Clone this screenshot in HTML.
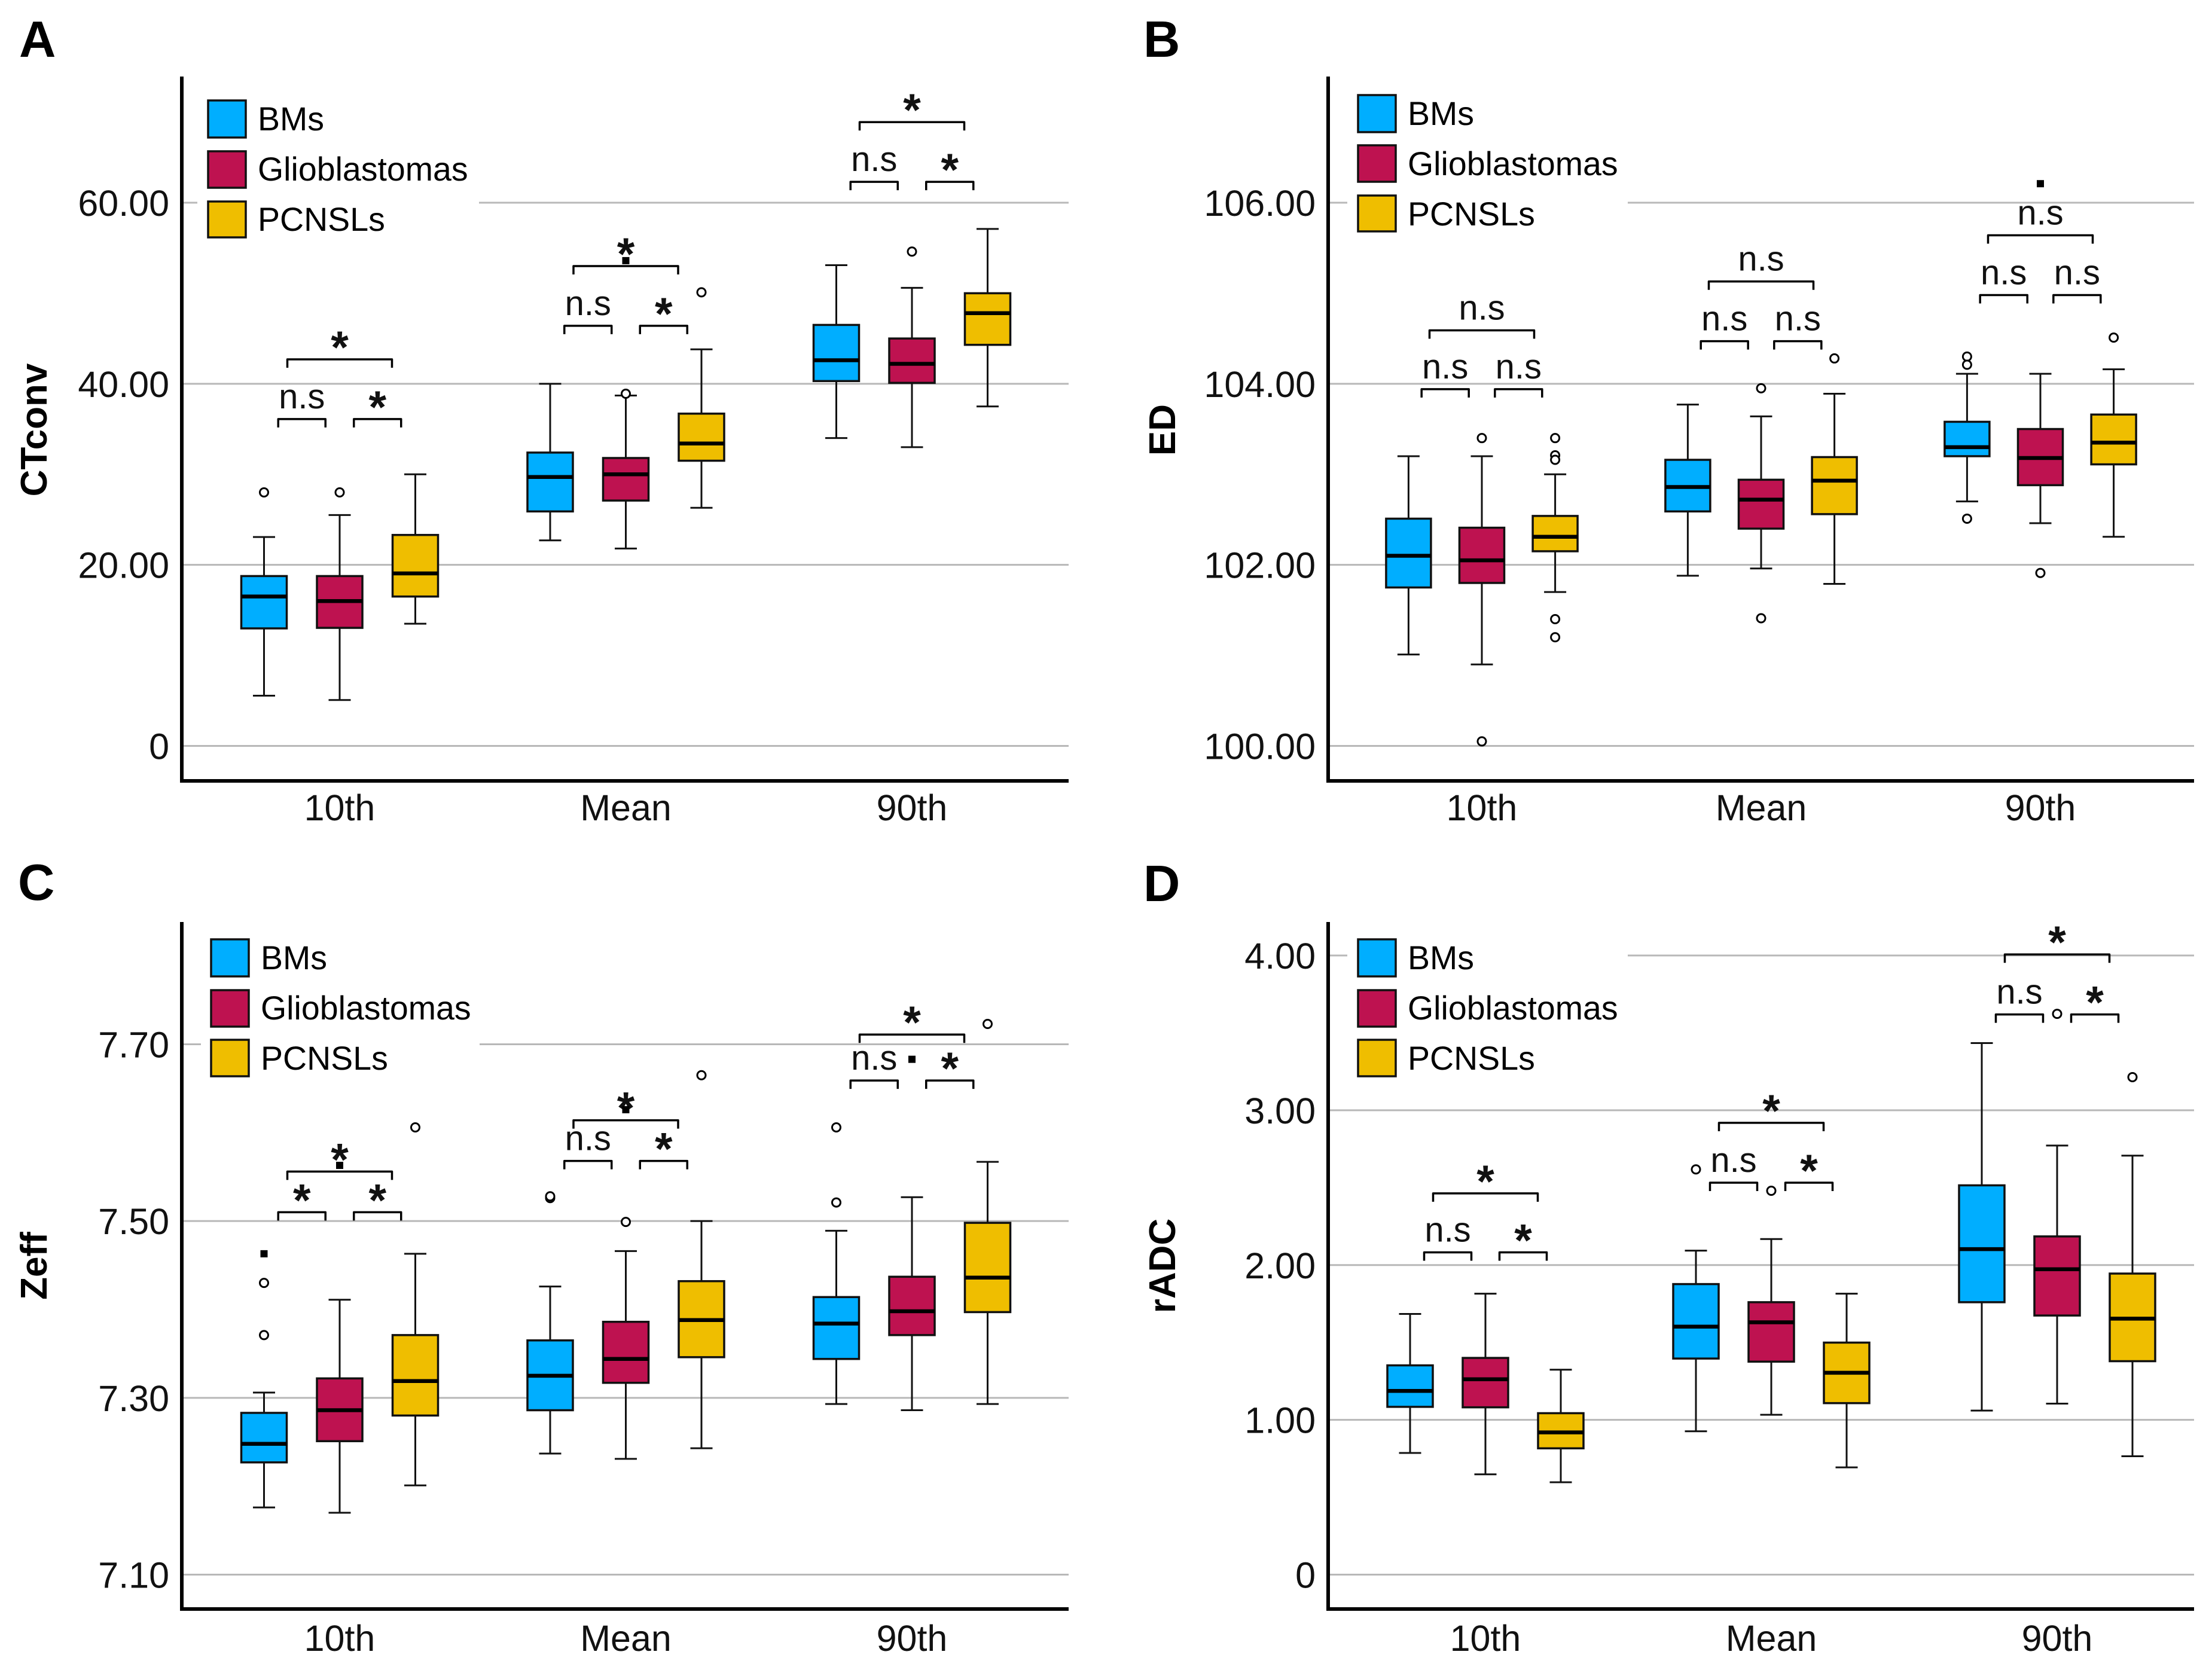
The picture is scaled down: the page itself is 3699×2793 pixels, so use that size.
<!DOCTYPE html>
<html lang="en">
<head>
<meta charset="utf-8">
<title>Boxplots of CTconv, ED, Zeff and rADC by tumour type</title>
<style>
html,body{margin:0;padding:0;background:#fff;}
svg{display:block;}
text{font-family:"Liberation Sans",Arial,sans-serif;fill:#111;}
.tick{font-size:61px;}
.letter{font-size:85px;font-weight:bold;fill:#000;}
.ytitle{font-size:62px;font-weight:bold;fill:#000;}
.legend{font-size:55.5px;fill:#000;}
.swatch{stroke:#111;stroke-width:3.5;}
</style>
</head>
<body>
<svg id="figure" xmlns="http://www.w3.org/2000/svg" width="3699" height="2793" viewBox="0 0 3699 2793">
  <rect width="3699" height="2793" fill="#fff"/>

  <g id="panel-a">
    <text class="letter" x="32" y="95">A</text>
    <text class="ytitle" transform="translate(78 719) rotate(-90)" text-anchor="middle">CTconv</text>
    <g id="grid-a"></g>
    <g>
      <rect x="330" y="150" width="471" height="260" fill="#fff"/>
      <rect class="swatch" x="348" y="168" width="63" height="62" fill="#00AEFF"/>
      <text class="legend" x="431" y="218">BMs</text>
      <rect class="swatch" x="348" y="253" width="63" height="61" fill="#BE1250"/>
      <text class="legend" x="431" y="302">Glioblastomas</text>
      <rect class="swatch" x="348" y="337" width="63" height="60" fill="#EFBE00"/>
      <text class="legend" x="431" y="386">PCNSLs</text>
    </g>
    <g id="marks-a"></g>
  </g>

  <g id="panel-b">
    <text class="letter" x="1912" y="95">B</text>
    <text class="ytitle" transform="translate(1965 719) rotate(-90)" text-anchor="middle">ED</text>
    <g id="grid-b"></g>
    <g>
      <rect x="2253" y="140" width="469" height="260" fill="#fff"/>
      <rect class="swatch" x="2271" y="159" width="63" height="62" fill="#00AEFF"/>
      <text class="legend" x="2354" y="209">BMs</text>
      <rect class="swatch" x="2271" y="243" width="63" height="61" fill="#BE1250"/>
      <text class="legend" x="2354" y="293">Glioblastomas</text>
      <rect class="swatch" x="2271" y="327" width="63" height="60" fill="#EFBE00"/>
      <text class="legend" x="2354" y="377">PCNSLs</text>
    </g>
    <g id="marks-b"></g>
  </g>

  <g id="panel-c">
    <text class="letter" x="30" y="1505">C</text>
    <text class="ytitle" transform="translate(78 2117) rotate(-90)" text-anchor="middle">Zeff</text>
    <g id="grid-c"></g>
    <g>
      <rect x="336" y="1555" width="466" height="260" fill="#fff"/>
      <rect class="swatch" x="353" y="1571" width="63" height="62" fill="#00AEFF"/>
      <text class="legend" x="436" y="1621">BMs</text>
      <rect class="swatch" x="353" y="1656" width="63" height="61" fill="#BE1250"/>
      <text class="legend" x="436" y="1705">Glioblastomas</text>
      <rect class="swatch" x="353" y="1739" width="63" height="61" fill="#EFBE00"/>
      <text class="legend" x="436" y="1789">PCNSLs</text>
    </g>
    <g id="marks-c"></g>
  </g>

  <g id="panel-d">
    <text class="letter" x="1912" y="1507">D</text>
    <text class="ytitle" transform="translate(1965 2117) rotate(-90)" text-anchor="middle">rADC</text>
    <g id="grid-d"></g>
    <g>
      <rect x="2253" y="1555" width="469" height="260" fill="#fff"/>
      <rect class="swatch" x="2271" y="1571" width="63" height="62" fill="#00AEFF"/>
      <text class="legend" x="2354" y="1621">BMs</text>
      <rect class="swatch" x="2271" y="1656" width="63" height="61" fill="#BE1250"/>
      <text class="legend" x="2354" y="1705">Glioblastomas</text>
      <rect class="swatch" x="2271" y="1739" width="63" height="61" fill="#EFBE00"/>
      <text class="legend" x="2354" y="1789">PCNSLs</text>
    </g>
    <g id="marks-d"></g>
  </g>
</svg>

<script>
// Shared categories
const categories = ['10th', 'Mean', '90th'];
const seriesNames = ['BMs', 'Glioblastomas', 'PCNSLs'];

// Each row: [lower whisker, Q1, median, Q3, upper whisker] for 10th, Mean, 90th
// Panel A: CTconv
const aTickValues = [0, 20, 40, 60];
const aTickLabels = ['0', '20.00', '40.00', '60.00'];
const aBMs = [[5.55, 12.98, 16.5, 18.76, 23.07], [22.7, 25.9, 29.7, 32.4, 40.0], [34.0, 40.3, 42.6, 46.5, 53.1]];
const aGlio = [[5.07, 13.04, 16.0, 18.76, 25.5], [21.8, 27.1, 30.0, 31.8, 38.7], [33.0, 40.1, 42.2, 45.0, 50.6]];
const aPCNSL = [[13.5, 16.5, 19.05, 23.3, 30.0], [26.3, 31.5, 33.4, 36.7, 43.8], [37.5, 44.3, 47.8, 50.0, 57.1]];
const aBMsOut = [[28.0], [], []];
const aGlioOut = [[28.0], [38.9], [54.6]];
const aPCNSLOut = [[], [50.1], []];
const aPairHeights = [36.1, 46.4, 62.3];
const aWideHeights = [42.7, 53.0, 68.9];
const aLeftLabels = ['n.s', 'n.s', 'n.s'];
const aRightLabels = ['*', '*', '*'];
const aWideLabels = ['*', '*', '*'];
const aDots = [[1, 1, 53.6]];

// Panel B: ED
const bTickValues = [100, 102, 104, 106];
const bTickLabels = ['100.00', '102.00', '104.00', '106.00'];
const bBMs = [[101.01, 101.75, 102.10, 102.51, 103.20], [101.88, 102.59, 102.86, 103.16, 103.77], [102.70, 103.20, 103.30, 103.58, 104.11]];
const bGlio = [[100.90, 101.80, 102.05, 102.41, 103.20], [101.96, 102.40, 102.72, 102.94, 103.64], [102.46, 102.88, 103.18, 103.50, 104.11]];
const bPCNSL = [[101.70, 102.15, 102.31, 102.54, 103.00], [101.79, 102.56, 102.93, 103.19, 103.89], [102.31, 103.11, 103.35, 103.66, 104.16]];
const bBMsOut = [[], [], [104.30, 104.21, 102.51]];
const bGlioOut = [[103.40, 100.05], [103.95, 101.41], [101.91]];
const bPCNSLOut = [[103.40, 103.21, 103.16, 101.40, 101.20], [104.28], [104.51]];
const bPairHeights = [103.94, 104.47, 104.98];
const bWideHeights = [104.59, 105.13, 105.64];
const bLeftLabels = ['n.s', 'n.s', 'n.s'];
const bRightLabels = ['n.s', 'n.s', 'n.s'];
const bWideLabels = ['n.s', 'n.s', 'n.s'];
const bDots = [[2, 1, 106.21]];

// Panel C: Zeff
const cTickValues = [7.10, 7.30, 7.50, 7.70];
const cTickLabels = ['7.10', '7.30', '7.50', '7.70'];
const cBMs = [[7.176, 7.227, 7.248, 7.283, 7.306], [7.237, 7.286, 7.325, 7.365, 7.426], [7.293, 7.344, 7.384, 7.414, 7.489]];
const cGlio = [[7.170, 7.251, 7.286, 7.322, 7.411], [7.231, 7.317, 7.344, 7.386, 7.466], [7.286, 7.371, 7.398, 7.437, 7.527]];
const cPCNSL = [[7.201, 7.280, 7.319, 7.371, 7.463], [7.243, 7.346, 7.388, 7.432, 7.500], [7.293, 7.397, 7.436, 7.498, 7.567]];
const cBMsOut = [[7.371, 7.430], [7.526, 7.528], [7.606, 7.521]];
const cGlioOut = [[], [7.499], []];
const cPCNSLOut = [[7.606], [7.665], [7.723]];
const cPairHeights = [7.510, 7.568, 7.659];
const cWideHeights = [7.556, 7.614, 7.711];
const cLeftLabels = ['*', 'n.s', 'n.s'];
const cRightLabels = ['*', '*', '*'];
const cWideLabels = ['*', '*', '*'];
const cDots = [[0, 0, 7.463], [0, 1, 7.563], [1, 1, 7.626], [2, 1, 7.683]];

// Panel D: rADC
const dTickValues = [0, 1, 2, 3, 4];
const dTickLabels = ['0', '1.00', '2.00', '3.00', '4.00'];
const dBMs = [[0.786, 1.084, 1.187, 1.352, 1.684], [0.926, 1.396, 1.602, 1.877, 2.093], [1.06, 1.76, 2.103, 2.515, 3.434]];
const dGlio = [[0.648, 1.081, 1.262, 1.40, 1.815], [1.033, 1.376, 1.63, 1.76, 2.168], [1.105, 1.674, 1.973, 2.185, 2.772]];
const dPCNSL = [[0.597, 0.816, 0.919, 1.043, 1.324], [0.693, 1.108, 1.304, 1.499, 1.815], [0.765, 1.379, 1.654, 1.945, 2.707]];
const dBMsOut = [[], [2.618], []];
const dGlioOut = [[], [2.48], [3.623]];
const dPCNSLOut = [[], [], [3.214]];
const dPairHeights = [2.082, 2.532, 3.619];
const dWideHeights = [2.463, 2.919, 4.007];
const dLeftLabels = ['n.s', 'n.s', 'n.s'];
const dRightLabels = ['*', '*', '*'];
const dWideLabels = ['*', '*', '*'];
const dDots = [];

// Axis geometry (layout only, no data)
const SVGNS = 'http://www.w3.org/2000/svg';
const seriesColors = ['#00AEFF', '#BE1250', '#EFBE00'];

const panels = [
  { id: 'a', axisX: 304, axisRight: 1787, axisTop: 128, axisBottom: 1306, v0: 0, y0: 1247.5, v1: 60, y1: 339,
    firstGroup: 568, groupStep: 478.5, boxStep: 126.5, boxWidth: 76, tickRight: 283, labelBaseline: 1372,
    ticks: aTickValues, tickLabels: aTickLabels, stats: [aBMs, aGlio, aPCNSL], outliers: [aBMsOut, aGlioOut, aPCNSLOut],
    pair: aPairHeights, wide: aWideHeights, left: aLeftLabels, right: aRightLabels, top: aWideLabels, dots: aDots },
  { id: 'b', axisX: 2221, axisRight: 3669, axisTop: 128, axisBottom: 1306, v0: 100, y0: 1247.5, v1: 106, y1: 339,
    firstGroup: 2478, groupStep: 467, boxStep: 122.6, boxWidth: 75, tickRight: 2200, labelBaseline: 1372,
    ticks: bTickValues, tickLabels: bTickLabels, stats: [bBMs, bGlio, bPCNSL], outliers: [bBMsOut, bGlioOut, bPCNSLOut],
    pair: bPairHeights, wide: bWideHeights, left: bLeftLabels, right: bRightLabels, top: bWideLabels, dots: bDots },
  { id: 'c', axisX: 304, axisRight: 1787, axisTop: 1542, axisBottom: 2691, v0: 7.10, y0: 2633.5, v1: 7.70, y1: 1746.5,
    firstGroup: 568, groupStep: 478.5, boxStep: 126.5, boxWidth: 76, tickRight: 283, labelBaseline: 2761,
    ticks: cTickValues, tickLabels: cTickLabels, stats: [cBMs, cGlio, cPCNSL], outliers: [cBMsOut, cGlioOut, cPCNSLOut],
    pair: cPairHeights, wide: cWideHeights, left: cLeftLabels, right: cRightLabels, top: cWideLabels, dots: cDots },
  { id: 'd', axisX: 2221, axisRight: 3669, axisTop: 1542, axisBottom: 2691, v0: 0, y0: 2633.5, v1: 4, y1: 1598,
    firstGroup: 2484, groupStep: 478, boxStep: 126, boxWidth: 76, tickRight: 2200, labelBaseline: 2761,
    ticks: dTickValues, tickLabels: dTickLabels, stats: [dBMs, dGlio, dPCNSL], outliers: [dBMsOut, dGlioOut, dPCNSLOut],
    pair: dPairHeights, wide: dWideHeights, left: dLeftLabels, right: dRightLabels, top: dWideLabels, dots: dDots }
];

function make(tag, parent, attrs) {
  const node = document.createElementNS(SVGNS, tag);
  for (const key in attrs) node.setAttribute(key, attrs[key]);
  parent.appendChild(node);
  return node;
}

function line(parent, x1, y1, x2, y2, width, color) {
  return make('line', parent, { x1: x1, y1: y1, x2: x2, y2: y2, stroke: color, 'stroke-width': width });
}

function drawBracket(parent, p, cx, halfWidth, height, label, name) {
  const y = yScale(p, height);
  const path = make('path', parent, {
    d: 'M' + (cx - halfWidth) + ' ' + (y + 14) + 'V' + y + 'H' + (cx + halfWidth) + 'V' + (y + 14),
    fill: 'none', stroke: '#000', 'stroke-width': 3.5, 'stroke-linejoin': 'round'
  });
  
  
  const isStar = label === '*';
  const text = make('text', parent, {
    x: cx, y: isStar ? y + 6 : y - 18, 'text-anchor': 'middle',
    'font-size': isStar ? 76 : 58, 'font-weight': isStar ? 'bold' : 'normal'
  });
  text.textContent = label;
  
  
}

function yScale(p, v) {
  return p.y0 + (v - p.v0) * (p.y1 - p.y0) / (p.v1 - p.v0);
}

function groupX(p, g) {
  return p.firstGroup + g * p.groupStep;
}

function boxX(p, g, s) {
  return groupX(p, g) + (s - 1) * p.boxStep;
}

panels.forEach(function (p) {
  const gridLayer = document.getElementById('grid-' + p.id);
  const layer = document.getElementById('marks-' + p.id);

  // gridlines and y tick labels
  p.ticks.forEach(function (value, i) {
    const y = yScale(p, value);
    const grid = line(gridLayer, p.axisX, y, p.axisRight, y, 3, '#b8b8b8');
    
    
    const label = make('text', gridLayer, { x: p.tickRight, y: y + 22, 'text-anchor': 'end', class: 'tick' });
    label.textContent = p.tickLabels[i];
    
    
  });

  // boxes
  categories.forEach(function (category, g) {
    seriesNames.forEach(function (series, s) {
      const cx = boxX(p, g, s);
      const st = p.stats[s][g];
      const group = make('g', layer, {});
      
      
      const capHalf = 18.5;
      line(group, cx, yScale(p, st[0]), cx, yScale(p, st[1]), 3, '#111');
      line(group, cx, yScale(p, st[3]), cx, yScale(p, st[4]), 3, '#111');
      line(group, cx - capHalf, yScale(p, st[0]), cx + capHalf, yScale(p, st[0]), 3, '#111');
      line(group, cx - capHalf, yScale(p, st[4]), cx + capHalf, yScale(p, st[4]), 3, '#111');
      make('rect', group, {
        x: cx - p.boxWidth / 2, y: yScale(p, st[3]), width: p.boxWidth,
        height: yScale(p, st[1]) - yScale(p, st[3]),
        fill: seriesColors[s], stroke: '#111', 'stroke-width': 3.5
      });
      line(group, cx - p.boxWidth / 2, yScale(p, st[2]), cx + p.boxWidth / 2, yScale(p, st[2]), 6.5, '#000');
      p.outliers[s][g].forEach(function (value) {
        const dot = make('circle', layer, { cx: cx, cy: yScale(p, value), r: 7, fill: '#fff', stroke: '#000', 'stroke-width': 3 });
        
        
      });
    });

    // significance brackets
    const left = (boxX(p, g, 0) + boxX(p, g, 1)) / 2;
    const right = (boxX(p, g, 1) + boxX(p, g, 2)) / 2;
    const key = category.toLowerCase();
    drawBracket(layer, p, left, 39.5, p.pair[g], p.left[g], 'left-' + key);
    drawBracket(layer, p, right, 39.5, p.pair[g], p.right[g], 'right-' + key);
    drawBracket(layer, p, groupX(p, g), 87.5, p.wide[g], p.top[g], 'wide-' + key);

    // x tick label
    const xLabel = make('text', layer, { x: groupX(p, g), y: p.labelBaseline, 'text-anchor': 'middle', class: 'tick' });
    xLabel.textContent = category;
    
    
  });

  // small square marks
  p.dots.forEach(function (d) {
    const square = make('rect', layer, { x: boxX(p, d[0], d[1]) - 6, y: yScale(p, d[2]) - 6, width: 12, height: 12, fill: '#000' });
    
    
  });

  // axes
  const yAxis = line(layer, p.axisX, p.axisTop, p.axisX, p.axisBottom + 3, 6, '#000');
  
  
  const xAxis = line(layer, p.axisX, p.axisBottom, p.axisRight, p.axisBottom, 6, '#000');
  
  
});
</script>
</body>
</html>
